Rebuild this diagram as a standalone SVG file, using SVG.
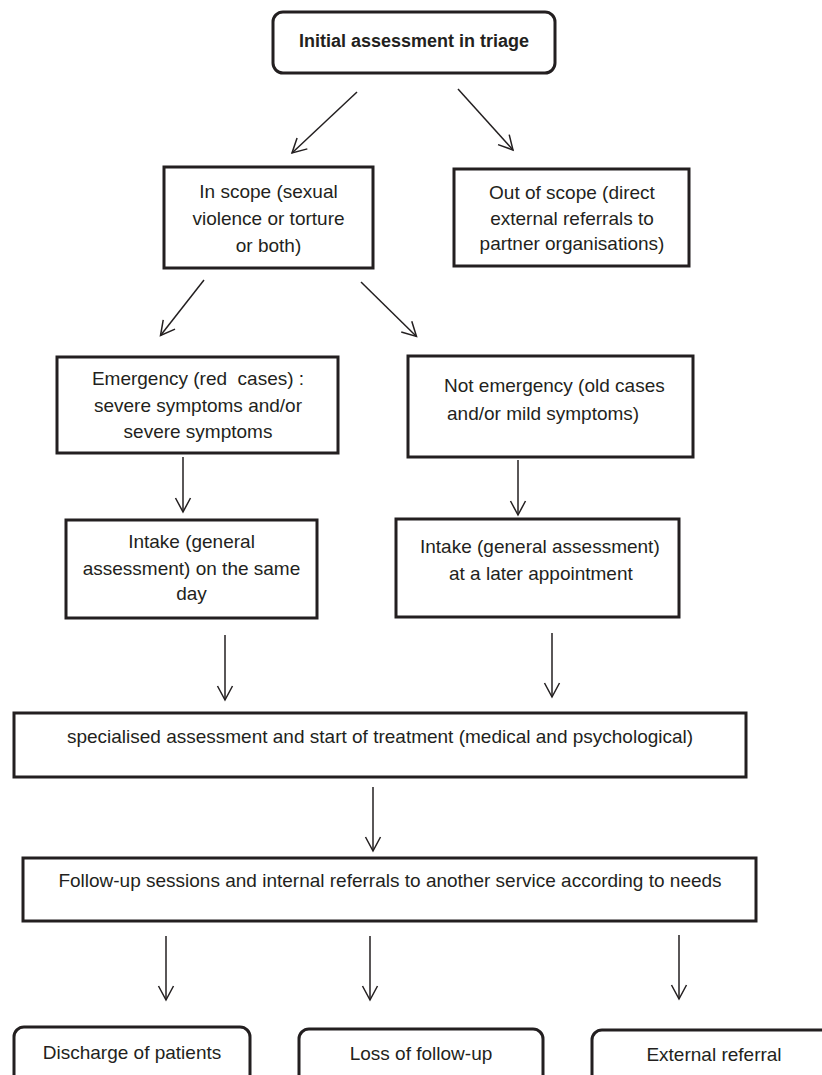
<svg xmlns="http://www.w3.org/2000/svg" width="822" height="1075" viewBox="0 0 822 1075">
<style>
.box{fill:#fff;stroke:#231f20;stroke-width:3}
.t{font-family:"Liberation Sans",Arial,sans-serif;font-size:19px;fill:#231f20;white-space:pre}
.m{text-anchor:middle}
.b{font-weight:bold;font-size:18px}
.c{fill:none;stroke:#231f20;stroke-width:1.5;marker-end:url(#ah)}
</style>
<defs>
<marker id="ah" markerUnits="userSpaceOnUse" viewBox="0 0 15 16" markerWidth="15" markerHeight="16" refX="14" refY="8" orient="auto" overflow="visible">
<path d="M0,0.5 L14,8 L0,15.5" fill="none" stroke="#231f20" stroke-width="1.5"/>
</marker>
</defs>
<rect width="822" height="1075" fill="#fff"/>
<g id="connectors">
<line class="c" x1="357" y1="92" x2="292" y2="153"/>
<line class="c" x1="458" y1="89" x2="513" y2="150"/>
<line class="c" x1="204" y1="280" x2="160.5" y2="335.5"/>
<line class="c" x1="361" y1="282" x2="416.5" y2="336.5"/>
<line class="c" x1="183" y1="457" x2="183" y2="512"/>
<line class="c" x1="518" y1="460" x2="518" y2="515"/>
<line class="c" x1="225" y1="635" x2="225" y2="700"/>
<line class="c" x1="552" y1="633" x2="552" y2="697"/>
<line class="c" x1="373" y1="787" x2="373" y2="851"/>
<line class="c" x1="166" y1="936" x2="166" y2="1000"/>
<line class="c" x1="370" y1="936" x2="370" y2="1000"/>
<line class="c" x1="679" y1="935" x2="679" y2="999"/>
</g>
<g id="triage">
<rect class="box" x="273" y="12" width="282" height="61" rx="10"/>
<text class="t b m" x="414" y="47">Initial assessment in triage</text>
</g>
<g id="in-scope">
<rect class="box" x="164" y="167" width="209" height="101"/>
<text class="t m" x="268.5" y="198">In scope (sexual</text>
<text class="t m" x="268.5" y="225">violence or torture</text>
<text class="t m" x="268.5" y="252">or both)</text>
</g>
<g id="out-of-scope">
<rect class="box" x="454" y="169" width="235" height="97"/>
<text class="t m" x="572" y="199">Out of scope (direct</text>
<text class="t m" x="572" y="225">external referrals to</text>
<text class="t m" x="572" y="250">partner organisations)</text>
</g>
<g id="emergency">
<rect class="box" x="57" y="357" width="281" height="96"/>
<text class="t m" x="198" y="385">Emergency (red  cases) :</text>
<text class="t m" x="198" y="412">severe symptoms and/or</text>
<text class="t m" x="198" y="438">severe symptoms</text>
</g>
<g id="not-emergency">
<rect class="box" x="408" y="356" width="285" height="101"/>
<text class="t" x="444" y="392">Not emergency (old cases</text>
<text class="t" x="447" y="420">and/or mild symptoms)</text>
</g>
<g id="intake-same-day">
<rect class="box" x="66" y="520" width="251" height="98"/>
<text class="t m" x="191.5" y="548">Intake (general</text>
<text class="t m" x="191.5" y="575">assessment) on the same</text>
<text class="t m" x="191.5" y="600">day</text>
</g>
<g id="intake-later">
<rect class="box" x="396" y="519" width="283" height="98"/>
<text class="t" x="420" y="553">Intake (general assessment)</text>
<text class="t" x="449" y="580">at a later appointment</text>
</g>
<g id="specialised">
<rect class="box" x="14" y="713" width="732" height="64"/>
<text class="t m" x="380" y="743">specialised assessment and start of treatment (medical and psychological)</text>
</g>
<g id="follow-up">
<rect class="box" x="23" y="858" width="733" height="63"/>
<text class="t m" x="390" y="887">Follow-up sessions and internal referrals to another service according to needs</text>
</g>
<g id="discharge">
<rect class="box" x="14" y="1027" width="236" height="70" rx="10"/>
<text class="t m" x="132" y="1059">Discharge of patients</text>
</g>
<g id="loss">
<rect class="box" x="299" y="1029" width="244" height="70" rx="10"/>
<text class="t m" x="421" y="1060">Loss of follow-up</text>
</g>
<g id="external">
<rect class="box" x="592" y="1030" width="245" height="70" rx="10"/>
<text class="t m" x="714" y="1061">External referral</text>
</g>
</svg>
